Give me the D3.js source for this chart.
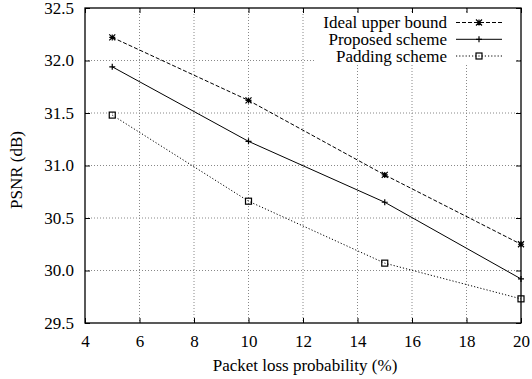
<!DOCTYPE html>
<html><head><meta charset="utf-8">
<script src="https://cdn.jsdelivr.net/npm/d3@7"></script>
<style>body{margin:0;background:#fff}svg{display:block}text{font-family:"Liberation Serif","Times New Roman",serif;fill:#000}</style>
</head><body><svg id="c" width="532" height="379"></svg>
<script>
const xValues = [5, 10, 15, 20];
const idealUpper = [32.22, 31.62, 30.91, 30.25];
const proposed = [31.94, 31.23, 30.65, 29.92];
const padding = [31.48, 30.66, 30.07, 29.73];
const seriesNames = ["Ideal upper bound", "Proposed scheme", "Padding scheme"];
const xTicks = [4, 6, 8, 10, 12, 14, 16, 18, 20];
const yTicks = [29.5, 30.0, 30.5, 31.0, 31.5, 32.0, 32.5];

const svg = d3.select("#c");
const L = 85, R = 521, T = 8, B = 323;
const FS = 17;
const x = d3.scaleLinear().domain([4, 20]).range([L, R]);
const y = d3.scaleLinear().domain([29.5, 32.5]).range([B, T]);

// grid
const g = svg.append("g");
g.selectAll(".gx").data(xTicks.slice(1, -1)).enter().append("line")
  .attr("x1", d => x(d)).attr("x2", d => x(d)).attr("y1", T).attr("y2", B)
  .attr("stroke", "#888").attr("stroke-width", 1).attr("stroke-dasharray", "1,2");
g.selectAll(".gy").data(yTicks.slice(1, -1)).enter().append("line")
  .attr("y1", d => y(d)).attr("y2", d => y(d)).attr("x1", L).attr("x2", R)
  .attr("stroke", "#888").attr("stroke-width", 1).attr("stroke-dasharray", "1,2");

// legend background (hides grid)
svg.append("rect").attr("x", 315).attr("y", 12).attr("width", 200).attr("height", 53).attr("fill", "#fff");

// axes with inward ticks, mirrored
const fmtY = d3.format(".1f");
const axB = svg.append("g").attr("transform", `translate(0,${B})`)
  .call(d3.axisBottom(x).tickValues(xTicks).tickSize(-5).tickPadding(12));
const axT = svg.append("g").attr("transform", `translate(0,${T})`)
  .call(d3.axisTop(x).tickValues(xTicks).tickSize(-5).tickFormat(""));
const axL = svg.append("g").attr("transform", `translate(${L},0)`)
  .call(d3.axisLeft(y).tickValues(yTicks).tickSize(-5).tickPadding(11).tickFormat(fmtY));
const axR = svg.append("g").attr("transform", `translate(${R},0)`)
  .call(d3.axisRight(y).tickValues(yTicks).tickSize(-5).tickFormat(""));
[axB, axT, axL, axR].forEach(a => {
  a.select(".domain").remove();
  a.selectAll(".tick line").attr("stroke", "#000");
  a.selectAll("text").attr("font-size", FS).style("font-family", '"Liberation Serif",serif');
});

svg.append("rect").attr("x", L).attr("y", T).attr("width", R - L).attr("height", B - T)
  .attr("fill", "none").attr("stroke", "#000").attr("stroke-width", 1.3);

const legX1 = 456, legX2 = 502;
const legRows = [22.5, 39.3, 56];

const series = [
  {name: seriesNames[0], vals: idealUpper, dash: "4,2", marker: "star"},
  {name: seriesNames[1], vals: proposed, dash: null, marker: "plus"},
  {name: seriesNames[2], vals: padding, dash: "1.2,2", marker: "square"}
];
const line = d3.line().x(d => x(d[0])).y(d => y(d[1]));

function marker(sel, type, cx, cy) {
  const s = 3;
  if (type === "plus") {
    sel.append("path").attr("d", `M${cx - s},${cy}H${cx + s}M${cx},${cy - s}V${cy + s}`)
      .attr("stroke", "#000").attr("stroke-width", 1.2).attr("fill", "none");
  } else if (type === "star") {
    sel.append("path").attr("d", `M${cx - s},${cy}H${cx + s}M${cx},${cy - s}V${cy + s}M${cx - s},${cy - s}L${cx + s},${cy + s}M${cx - s},${cy + s}L${cx + s},${cy - s}`)
      .attr("stroke", "#000").attr("stroke-width", 1.2).attr("fill", "none");
  } else {
    sel.append("rect").attr("x", cx - 3).attr("y", cy - 3).attr("width", 6).attr("height", 6)
      .attr("stroke", "#000").attr("stroke-width", 1.2).attr("fill", "none");
  }
}

series.forEach((s, i) => {
  const pts = xValues.map((v, j) => [v, s.vals[j]]);
  svg.append("path").datum(pts).attr("d", line).attr("fill", "none")
    .attr("stroke", "#000").attr("stroke-width", 1)
    .attr("stroke-dasharray", s.dash);
  const mg = svg.append("g");
  pts.forEach(p => marker(mg, s.marker, x(p[0]), y(p[1])));
  // legend
  const ly = legRows[i];
  svg.append("text").attr("x", 447).attr("y", ly).attr("dy", "0.35em")
    .attr("text-anchor", "end").attr("font-size", FS).text(s.name);
  svg.append("line").attr("x1", legX1).attr("x2", legX2).attr("y1", ly).attr("y2", ly)
    .attr("stroke", "#000").attr("stroke-width", 1).attr("stroke-dasharray", s.dash);
  marker(svg, s.marker, (legX1 + legX2) / 2, ly);
});

svg.append("text").attr("x", (L + R) / 2 + 2).attr("y", 371).attr("text-anchor", "middle")
  .attr("font-size", FS).text("Packet loss probability (%)");
svg.append("text").attr("transform", `translate(22,170) rotate(-90)`)
  .attr("text-anchor", "middle").attr("font-size", FS).text("PSNR (dB)");
</script></body></html>
